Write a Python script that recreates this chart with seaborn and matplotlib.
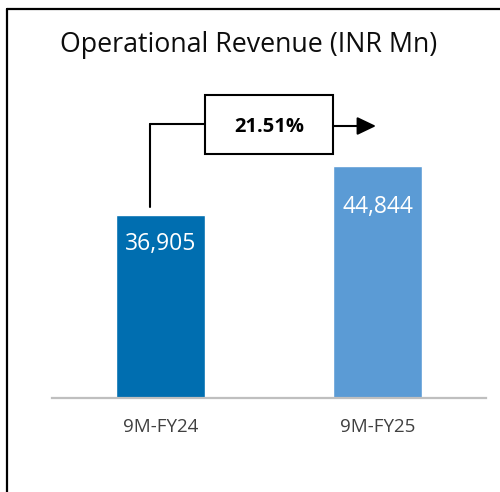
import matplotlib
matplotlib.use("Agg")
import matplotlib.pyplot as plt
import seaborn as sns
import pandas as pd
from matplotlib.lines import Line2D
from matplotlib.patches import Rectangle, FancyArrowPatch

# ---- data ----
categories = ["9M-FY24", "9M-FY25"]
revenue = [36905, 44844]
growth_label = "21.51%"
title = "Operational Revenue (INR Mn)"
bar_colors = ["#006EB0", "#5B9BD5"]

df = pd.DataFrame({"period": categories, "revenue": revenue})

sns.set_theme(style="white")
FONT = ["Open Sans", "DejaVu Sans"]
plt.rcParams["font.family"] = FONT

W, H = 500, 492
fig = plt.figure(figsize=(W / 100, H / 100), dpi=100)
fig.patch.set_facecolor("white")

def fx(px):
    return px / W

def fy(py):
    return 1 - py / H

# axes: x 52..486 px, y 60..397.5 px
ax = fig.add_axes([fx(52), fy(397.5), fx(486) - fx(52), fy(60) - fy(397.5)])
sns.barplot(data=df, x="period", y="revenue", hue="period", palette=bar_colors,
            width=0.41, saturation=1, legend=False, ax=ax)
ax.set_xlim(-0.5, 1.5)
ax.set_ylim(7340, 62015)
ax.set_xlabel("")
ax.set_ylabel("")
ax.set_yticks([])
for s in ["top", "right", "left"]:
    ax.spines[s].set_visible(False)
ax.spines["bottom"].set_color("#BFBFBF")
ax.spines["bottom"].set_linewidth(1.6)
ax.tick_params(axis="x", length=0, pad=14.5, labelsize=13.5, labelcolor="#404040")
ax.patch.set_alpha(0)

# value labels inside bars
label_drop_px = [28.5, 41]
for i, (v, d) in enumerate(zip(revenue, label_drop_px)):
    ax.annotate(f"{v:,}", xy=(i, v), xytext=(0, -d * 0.72), textcoords="offset points",
                ha="center", va="center", color="white", fontsize=16.5)

# title
fig.text(fx(249), fy(45), title, ha="center", va="center", fontsize=19.3, color="#0D0D0D")

# border (top and left)
fig.add_artist(Line2D([fx(6.7), 1.0], [fy(9.3), fy(9.3)], color="black", lw=1.6))
fig.add_artist(Line2D([fx(6.7), fx(6.7)], [fy(9.3), 0.0], color="black", lw=1.6))

# growth callout
fig.add_artist(Line2D([fx(150), fx(150)], [fy(207), fy(124)], color="black", lw=1.5))
fig.add_artist(Line2D([fx(150), fx(205)], [fy(124), fy(124)], color="black", lw=1.5))
fig.add_artist(Rectangle((fx(205), fy(154)), fx(333) - fx(205), fy(95) - fy(154),
                         transform=fig.transFigure, facecolor="white", edgecolor="black", lw=1.5))
fig.text(fx(269), fy(127), growth_label, ha="center", va="center", fontsize=14.5,
         fontweight="bold", color="black")
fig.add_artist(FancyArrowPatch((fx(333), fy(126)), (fx(376), fy(126)),
                               transform=fig.transFigure, arrowstyle="-|>,head_length=1.15,head_width=0.55",
                               mutation_scale=10, color="black", lw=1.5, shrinkA=0, shrinkB=0))

fig.savefig("out.png", dpi=100, facecolor="white")
